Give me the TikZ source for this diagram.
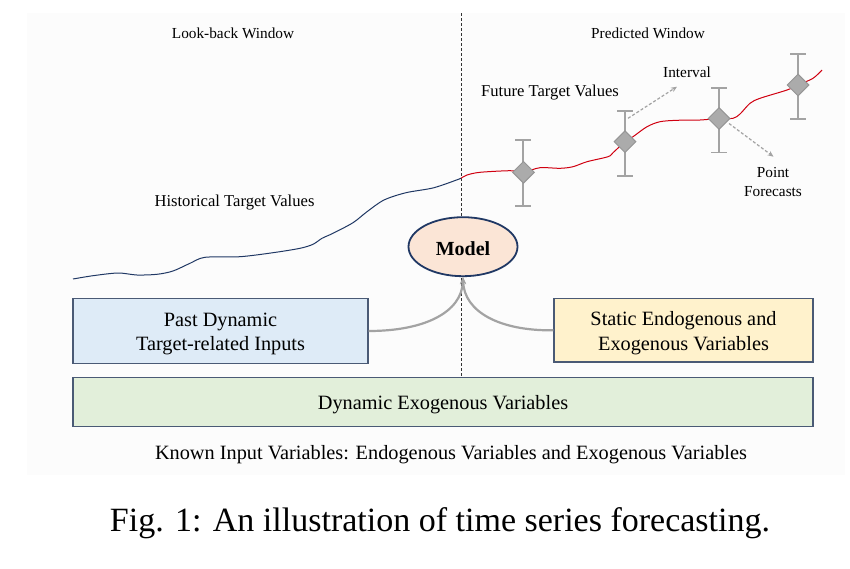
\documentclass[tikz,border=0pt]{standalone}
\usepackage{fontspec}
\setmainfont{Liberation Serif}
\usetikzlibrary{arrows.meta,shapes.geometric}
\definecolor{navy}{HTML}{203864}
\definecolor{boxline}{HTML}{4A5A75}
\definecolor{bluefill}{HTML}{DEEBF7}
\definecolor{yellowfill}{HTML}{FFF2CC}
\definecolor{greenfill}{HTML}{E2EFDA}
\definecolor{peach}{HTML}{FBE5D6}
\definecolor{bargray}{HTML}{A3A3A3}
\definecolor{diafill}{HTML}{ABABAB}
\definecolor{diaedge}{HTML}{959595}
\definecolor{redline}{HTML}{D00010}
\definecolor{bgfaint}{HTML}{FCFCFC}
\tikzset{
  small/.style={font=\fontsize{15.3}{18}\selectfont, inner sep=0pt},
  mid/.style={font=\fontsize{16.6}{20}\selectfont, inner sep=0pt},
  boxtext/.style={font=\fontsize{20.3}{24.5}\selectfont, align=center, inner sep=0pt},
  inbox/.style={draw=boxline, line width=1.3pt, inner sep=0pt},
  forecast/.style={shape=diamond, fill=diafill, draw=diaedge, line width=1pt, minimum width=22pt, minimum height=22pt, inner sep=0pt},
  errbar/.style={draw=bargray, line width=1.6pt},
  feed/.style={draw=bargray, line width=2.2pt, -{Stealth[length=7pt,width=6pt]}},
  pointer/.style={draw=bargray, line width=1.2pt, dashed, dash pattern=on 3pt off 2pt, -{Stealth[length=6pt,width=5pt]}},
}
\begin{document}
\begin{tikzpicture}[x=1pt,y=-1pt]
\useasboundingbox (0,0) rectangle (850,568);
\fill[bgfaint] (27,13) rectangle (845,475);

% window labels
\node[small] (lookback) at (233,33) {Look-back Window};
\node[small] (predicted) at (648,33) {Predicted Window};

% dashed divider
\coordinate (divtop) at (461,13);
\coordinate (divbot) at (461,377);
\draw[black!80, line width=0.8pt, dash pattern=on 3pt off 2pt] (divtop) -- (divbot);

% historical series
\draw[navy, line width=1pt] plot[smooth, tension=0.5] coordinates {
 (73,279) (93,275.7) (118,273) (137,275) (157,274.3) (173,271) (190,263.3) (205,257.3)
 (240,256.7) (273,252.7) (300,248.3) (313,244.3) (322,238.3) (333,233.3) (353,222.7)
 (367,211.7) (384,200) (406,192.7) (434,187.7) (461,178.3)};

% future series
\draw[redline, line width=1pt] plot[smooth, tension=0.5] coordinates {
 (461,178.3) (467,175) (480,172.3) (510,170.7) (524,172) (540,167.7) (560,168.3)
 (573,166.7) (587,161.7) (608,156.7) (613,152.7) (625,141.7) (633,136.7) (647,126.7)
 (660,121.7) (677,120.3) (700,120) (719,118.5) (733,118.3) (740,114) (750,103.3)
 (760,98.3) (787,90) (798,85) (813,78.3) (822,70)};

% error bars
\draw[errbar] (515,140) -- (531,140) (523,140) -- (523,205.7) (515,205.7) -- (531,205.7);
\draw[errbar] (617,110.7) -- (633,110.7) (625,110.7) -- (625,175.7) (617,175.7) -- (633,175.7);
\draw[errbar] (711,87.7) -- (727,87.7) (719,87.7) -- (719,152.3) (711,152.3) -- (727,152.3);
\draw[errbar] (790,53.7) -- (806,53.7) (798,53.7) -- (798,119) (790,119) -- (806,119);

% point forecasts
\node[forecast] (d1) at (523.5,172.3) {};
\node[forecast] (d2) at (625,141.7) {};
\node[forecast] (d3) at (719,118.5) {};
\node[forecast] (d4) at (798,85) {};

% labels
\node[mid] (future) at (550,92.5) {Future Target Values};
\node[mid] (hist) at (234.5,202.5) {Historical Target Values};
\node[small] (interval) at (687,72.5) {Interval};
\node[small, align=center, font=\fontsize{15.3}{19}\selectfont] (pf) at (773,182) {Point\\Forecasts};

\coordinate (intstart) at (628,118.3);
\coordinate (intend) at (677,86.7);
\draw[pointer] (intstart) -- (intend);
\coordinate (pfstart) at (729,123.5);
\coordinate (pfend) at (773.5,156.7);
\draw[pointer] (pfstart) -- (pfend);

% model
\node[shape=ellipse, draw=navy, line width=1.8pt, fill=peach, minimum width=109pt, minimum height=59pt, inner sep=0pt] (model) at (463,246.7) {};
\node[font=\fontsize{20}{24}\selectfont\bfseries, inner sep=0pt] (modeltext) at (463,248.5) {Model};

% input boxes
\node[inbox, fill=bluefill, minimum width=295pt, minimum height=65pt] (past) at (220.5,331) {};
\node[boxtext] (pasttext) at (220.5,334) {Past Dynamic\\Target-related Inputs};
\node[inbox, fill=yellowfill, minimum width=259pt, minimum height=63.5pt] (static) at (683.5,330.3) {};
\node[boxtext] (statictext) at (683.5,333.3) {Static Endogenous and\\Exogenous Variables};
\node[inbox, fill=greenfill, minimum width=740pt, minimum height=49pt] (dyn) at (443,402) {};
\node[boxtext] (dyntext) at (443,404.5) {Dynamic Exogenous Variables};

% feeds into model
\draw[feed] (past.east) .. controls (425,331) and (462,312) .. (model.south);
\draw[feed] (static.west) .. controls (500,331) and (464,312) .. (model.south);

% bottom text
\node[font=\fontsize{20.3}{24}\selectfont, inner sep=0pt] (known) at (451,454.5) {Known Input Variables: Endogenous Variables and Exogenous Variables};
\node[font=\fontsize{34}{40}\selectfont, inner sep=0pt] (caption) at (440,523) {Fig. 1: An illustration of time series forecasting.};
\end{tikzpicture}
\end{document}
